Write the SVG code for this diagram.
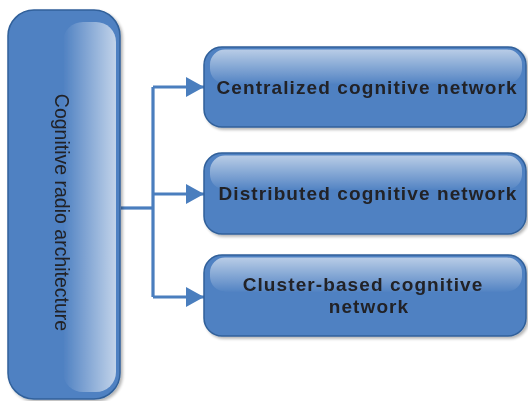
<svg xmlns="http://www.w3.org/2000/svg" width="528" height="401" viewBox="0 0 528 401">
  <defs>
    <style>
      .box { fill: #4f81c2; stroke: #30609a; stroke-width: 1.5; }
      .label { font-family: "Liberation Sans", Arial, sans-serif; font-weight: bold; font-size: 19px; letter-spacing: 1.1px; fill: #222226; text-anchor: middle; }
      .side { font-family: "Liberation Sans", Arial, sans-serif; font-size: 19.5px; fill: #222226; text-anchor: middle; }
      .link { fill: none; stroke: #4a7ebe; stroke-width: 3.2; }
    </style>
    <linearGradient id="sideGloss" x1="0" y1="0" x2="1" y2="0">
      <stop offset="0" stop-color="#ffffff" stop-opacity="0"/>
      <stop offset="1" stop-color="#ffffff" stop-opacity="0.65"/>
    </linearGradient>
    <linearGradient id="topGloss" x1="0" y1="0" x2="0" y2="1">
      <stop offset="0" stop-color="#ffffff" stop-opacity="0.6"/>
      <stop offset="1" stop-color="#ffffff" stop-opacity="0.03"/>
    </linearGradient>
    <filter id="shadow" x="-10%" y="-10%" width="130%" height="130%">
      <feGaussianBlur in="SourceAlpha" stdDeviation="1.5"/>
      <feOffset dx="1.5" dy="2" result="b"/>
      <feComponentTransfer><feFuncA type="linear" slope="0.3"/></feComponentTransfer>
      <feMerge><feMergeNode/><feMergeNode in="SourceGraphic"/></feMerge>
    </filter>
    <marker id="arrow" markerUnits="userSpaceOnUse" markerWidth="19" markerHeight="20" refX="18" refY="10" orient="auto">
      <path d="M0,0 L18,10 L0,20 z" fill="#4a7ebe"/>
    </marker>
  </defs>

  <rect width="528" height="401" fill="#ffffff"/>

  <!-- connectors -->
  <g id="connectors">
    <path class="link" d="M121,208 H153"/>
    <path class="link" d="M153,87 V297"/>
    <path class="link" d="M153,87 H204" marker-end="url(#arrow)"/>
    <path class="link" d="M153,194 H204" marker-end="url(#arrow)"/>
    <path class="link" d="M153,297 H204" marker-end="url(#arrow)"/>
  </g>

  <!-- root node -->
  <g id="architecture" filter="url(#shadow)">
    <rect class="box" x="8" y="10" width="112" height="389" rx="26" ry="26"/>
    <rect x="63" y="22" width="53" height="370" rx="20" ry="20" fill="url(#sideGloss)"/>
    <text class="side" transform="translate(55,212.5) rotate(90)">Cognitive radio architecture</text>
  </g>

  <!-- child nodes -->
  <g id="centralized" filter="url(#shadow)">
    <rect class="box" x="204" y="47" width="322" height="80" rx="18" ry="18"/>
    <rect x="210" y="49.5" width="312" height="34" rx="15" ry="15" fill="url(#topGloss)"/>
    <text class="label" x="367" y="93.5">Centralized cognitive network</text>
  </g>

  <g id="distributed" filter="url(#shadow)">
    <rect class="box" x="204" y="153" width="322" height="81" rx="18" ry="18"/>
    <rect x="210" y="155.5" width="312" height="34" rx="15" ry="15" fill="url(#topGloss)"/>
    <text class="label" x="368" y="200">Distributed cognitive network</text>
  </g>

  <g id="cluster-based" filter="url(#shadow)">
    <rect class="box" x="204" y="255" width="322" height="81" rx="18" ry="18"/>
    <rect x="210" y="257.5" width="312" height="34" rx="15" ry="15" fill="url(#topGloss)"/>
    <text class="label" x="363" y="291">Cluster-based cognitive</text>
    <text class="label" x="369" y="313">network</text>
  </g>
</svg>
